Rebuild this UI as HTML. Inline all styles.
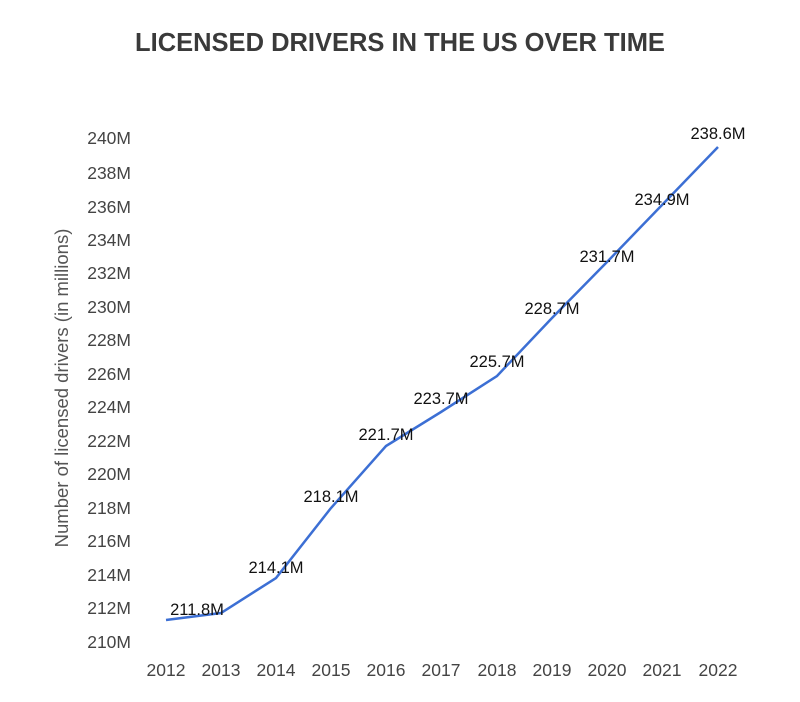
<!DOCTYPE html>
<html><head><style>
body{margin:0;background:#fff;}
</style></head><body>
<svg width="800" height="697" xmlns="http://www.w3.org/2000/svg" font-family="Liberation Sans, sans-serif">
<rect width="800" height="697" fill="#fff"/>
<text x="400" y="51" text-anchor="middle" font-size="25.5" font-weight="bold" fill="#3a3a3a">LICENSED DRIVERS IN THE US OVER TIME</text>
<text transform="translate(68,388) rotate(-90)" text-anchor="middle" font-size="18.5" fill="#555">Number of licensed drivers (in millions)</text>
<g font-size="17.5" fill="#444" text-anchor="end">
<text x="131" y="144">240M</text>
<text x="131" y="179">238M</text>
<text x="131" y="213">236M</text>
<text x="131" y="246">234M</text>
<text x="131" y="279">232M</text>
<text x="131" y="313">230M</text>
<text x="131" y="346">228M</text>
<text x="131" y="380">226M</text>
<text x="131" y="413">224M</text>
<text x="131" y="447">222M</text>
<text x="131" y="480">220M</text>
<text x="131" y="514">218M</text>
<text x="131" y="547">216M</text>
<text x="131" y="581">214M</text>
<text x="131" y="614">212M</text>
<text x="131" y="648">210M</text>
</g>
<g font-size="17.5" fill="#444" text-anchor="middle">
<text x="166" y="676">2012</text><text x="221" y="676">2013</text><text x="276" y="676">2014</text>
<text x="331" y="676">2015</text><text x="386" y="676">2016</text><text x="441" y="676">2017</text>
<text x="497" y="676">2018</text><text x="552" y="676">2019</text><text x="607" y="676">2020</text>
<text x="662" y="676">2021</text><text x="718" y="676">2022</text>
</g>
<polyline fill="none" stroke="#3c6fd4" stroke-width="2.5" points="166,620 221,613 276,578 331,508 386,446 441,412 497,376 552,318 607,262 662,205 718,147"/>
<g font-size="16.5" fill="#111" text-anchor="middle">
<text x="197" y="615">211.8M</text>
<text x="276" y="573">214.1M</text>
<text x="331" y="502">218.1M</text>
<text x="386" y="440">221.7M</text>
<text x="441" y="404">223.7M</text>
<text x="497" y="367">225.7M</text>
<text x="552" y="314">228.7M</text>
<text x="607" y="262">231.7M</text>
<text x="662" y="205">234.9M</text>
<text x="718" y="139">238.6M</text>
</g>
</svg>
</body></html>
